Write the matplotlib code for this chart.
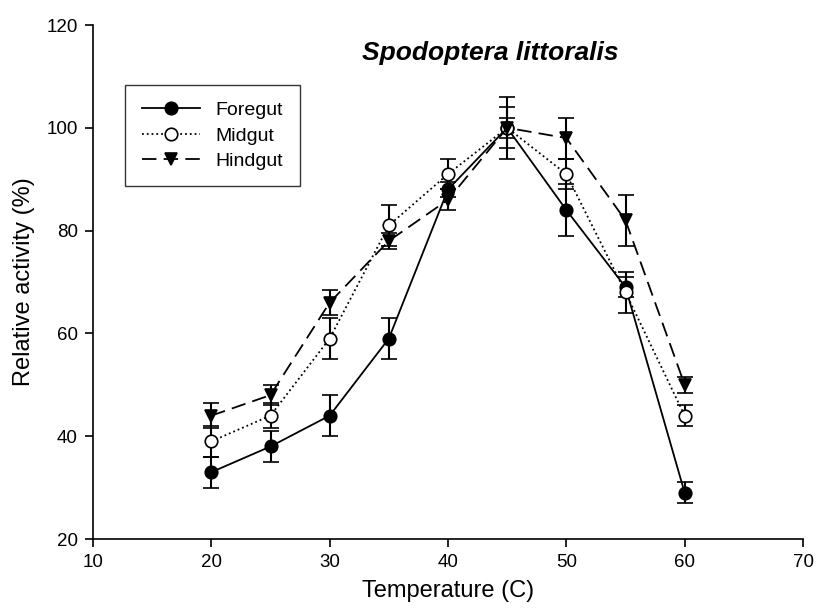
import matplotlib
matplotlib.use('Agg')
import matplotlib.pyplot as plt

plt.rcParams['font.family'] = ['Liberation Sans', 'DejaVu Sans']

temps = [20, 25, 30, 35, 40, 45, 50, 55, 60]
foregut = [33, 38, 44, 59, 88, 100, 84, 69, 29]
foregut_err = [3, 3, 4, 4, 1.5, 6, 5, 2, 2]
midgut = [39, 44, 59, 81, 91, 100, 91, 68, 44]
midgut_err = [3, 2.5, 4, 4, 3, 4, 3, 4, 2]
hindgut = [44, 48, 66, 78, 86, 100, 98, 82, 50]
hindgut_err = [2.5, 2, 2.5, 1.5, 2, 2, 4, 5, 1.5]

fig = plt.figure(figsize=(8.19, 6.15), dpi=100)
# axes box in pixels: left 93, right 803, top 25, bottom 539
ax = fig.add_axes([93 / 819, 1 - 539 / 615, 710 / 819, 514 / 615])

common = dict(color='black', capsize=5.5, elinewidth=1.5, capthick=1.5,
              markersize=9, markeredgecolor='black', markeredgewidth=1.2)
fg = ax.errorbar(temps, foregut, yerr=foregut_err, fmt='o-', lw=1.3,
                 markerfacecolor='black', label='Foregut', **common)
mg = ax.errorbar(temps, midgut, yerr=midgut_err, fmt='o', ls=':', lw=1.3,
                 markerfacecolor='white', label='Midgut', **common)
hg = ax.errorbar(temps, hindgut, yerr=hindgut_err, fmt='v', ls=(0, (8, 4)), lw=1.3,
                 markerfacecolor='black', label='Hindgut', **common)

ax.set_xlim(10, 70)
ax.set_ylim(20, 120)
ax.set_xticks(range(10, 71, 10))
ax.set_yticks(range(20, 121, 20))
for s in ['top', 'right']:
    ax.spines[s].set_visible(False)
for s in ['left', 'bottom']:
    ax.spines[s].set_linewidth(1.2)
ax.tick_params(direction='out', length=6, width=1.2, labelsize=13.5, pad=5)
ax.set_xlabel('Temperature (C)', fontsize=17, labelpad=6)
ax.set_ylabel('Relative activity (%)', fontsize=17, labelpad=8)

ax.text(0.559, 0.9455, 'Spodoptera littoralis', transform=ax.transAxes,
        ha='center', va='center', fontsize=19, fontweight='bold', style='italic')

# legend shows only line + marker, no error bars
leg = ax.legend([fg[0], mg[0], hg[0]], ['Foregut', 'Midgut', 'Hindgut'],
                loc='upper left', bbox_to_anchor=(125 / 819, 1 - 85 / 615),
                bbox_transform=fig.transFigure, borderaxespad=0,
                frameon=True, fancybox=False, fontsize=14, handlelength=3.0,
                handletextpad=0.8, labelspacing=0.4, borderpad=0.85,
                edgecolor='black')
leg.get_frame().set_linewidth(1.0)

fig.savefig('out.png', dpi=100)
